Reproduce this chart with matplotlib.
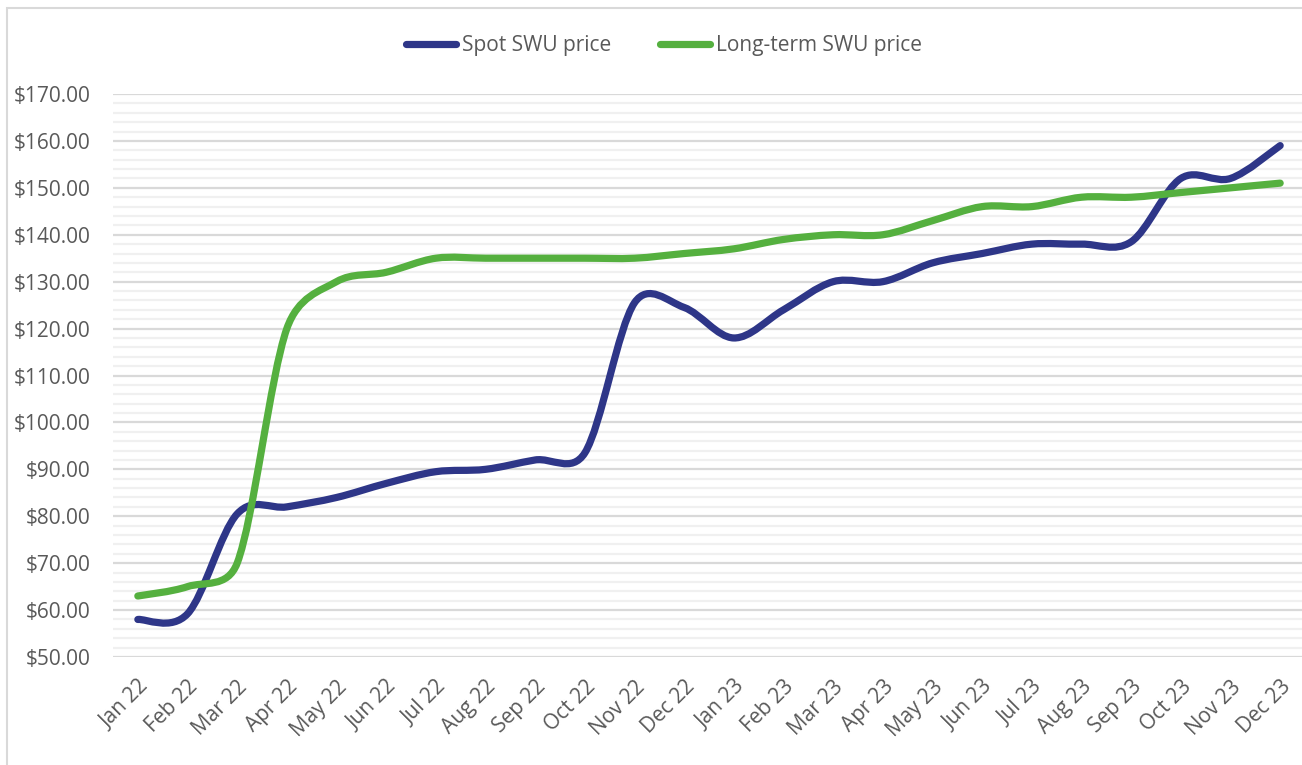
import matplotlib
matplotlib.use("Agg")
import matplotlib.pyplot as plt
from matplotlib.path import Path
from matplotlib.patches import PathPatch, Rectangle
from matplotlib.lines import Line2D
import numpy as np

months = ["Jan 22", "Feb 22", "Mar 22", "Apr 22", "May 22", "Jun 22", "Jul 22", "Aug 22",
          "Sep 22", "Oct 22", "Nov 22", "Dec 22", "Jan 23", "Feb 23", "Mar 23", "Apr 23",
          "May 23", "Jun 23", "Jul 23", "Aug 23", "Sep 23", "Oct 23", "Nov 23", "Dec 23"]
spot = [58, 59.2, 80.5, 82, 84, 87, 89.5, 90, 92, 93.5, 125.5, 124.5,
        118, 124, 130, 130, 134, 136, 138, 138, 138.5, 152, 152, 159]
long_term = [63, 65, 70, 120, 130, 132, 135, 135, 135, 135, 135, 136,
             137, 139, 140, 140, 143, 146, 146, 148, 148, 149, 150, 151]
yticks = [50, 60, 70, 80, 90, 100, 110, 120, 130, 140, 150, 160, 170]

BLUE = "#2E3688"
GREEN = "#55B03F"
TXT = "#595959"
FONT = ["Open Sans", "DejaVu Sans"]
plt.rcParams['font.family'] = FONT


def excel_smooth_path(ax, xs, ys):
    """Bezier path like Excel's smoothed line, tangents limited in display space."""
    data = np.column_stack([xs, ys]).astype(float)
    disp = ax.transData.transform(data)
    n = len(data)
    verts = [data[0]]
    codes = [Path.MOVETO]
    f0 = 1.0 / 6.0
    for i in range(n - 1):
        i0 = i - 1 if i > 0 else i
        i3 = i + 2 if i + 2 < n else i + 1
        p0, p1, p2, p3 = data[i0], data[i], data[i + 1], data[i3]
        q0, q1, q2, q3 = disp[i0], disp[i], disp[i + 1], disp[i3]
        d02 = np.hypot(*(q2 - q0))
        d12 = np.hypot(*(q2 - q1))
        d13 = np.hypot(*(q3 - q1))
        f1 = f0
        f2 = f0
        if d02 > 0 and d02 * f0 > d12 / 2:
            f1 = d12 / (2 * d02)
        if d13 > 0 and d13 * f0 > d12 / 2:
            f2 = d12 / (2 * d13)
        c1 = p1 + (p2 - p0) * f1
        c2 = p2 - (p3 - p1) * f2
        verts += [c1, c2, p2]
        codes += [Path.CURVE4] * 3
    return Path(verts, codes)


W, H = 1302, 765
fig = plt.figure(figsize=(W / 100, H / 100), dpi=100)
fig.patches.append(Rectangle((7 / W, -0.1), 1.2, (H - 8) / H + 0.1, transform=fig.transFigure,
                             fill=False, edgecolor="#D9D9D9", linewidth=1.5))

ax = fig.add_axes([113 / W, 1 - 657 / H, 1192 / W, (657 - 94) / H])
x = np.arange(len(months))
ax.set_xlim(-0.5, len(months) - 0.5)
ax.set_ylim(50, 170)
ax.set_yticks(yticks)
ax.set_yticks(np.arange(50, 171, 2), minor=True)
ax.yaxis.grid(True, which="minor", color="#F0F0F0", linewidth=1.6, zorder=0)
ax.yaxis.grid(True, which="major", color="#D9D9D9", linewidth=1.6, zorder=0)
ax.set_axisbelow(True)
for s in ax.spines.values():
    s.set_visible(False)
ax.tick_params(which="both", length=0)
ax.set_yticklabels([f"${v:.2f}" for v in yticks], fontsize=15, color=TXT)
ax.tick_params(axis="y", pad=16)
ax.set_xticks(x)
ax.set_xticklabels(months, fontsize=15, color=TXT, rotation=45, ha="right",
                   rotation_mode="anchor")
ax.tick_params(axis="x", pad=14)

for ys, col in [(spot, BLUE), (long_term, GREEN)]:
    patch = PathPatch(excel_smooth_path(ax, x, ys), facecolor="none", edgecolor=col,
                      linewidth=5.2, capstyle="round", joinstyle="round",
                      transform=ax.transData, clip_on=False, zorder=3)
    ax.add_patch(patch)

handles = [Line2D([], [], color=BLUE, linewidth=5.2, solid_capstyle="round"),
           Line2D([], [], color=GREEN, linewidth=5.2, solid_capstyle="round")]
fig.legend(handles, ["Spot SWU price", "Long-term SWU price"], loc="center",
           bbox_to_anchor=(664 / W, 1 - 46 / H), ncol=2, frameon=False,
           fontsize=15, labelcolor=TXT, handlelength=2.4, handletextpad=0.3,
           columnspacing=2.3)

fig.savefig("out.png", dpi=100)
